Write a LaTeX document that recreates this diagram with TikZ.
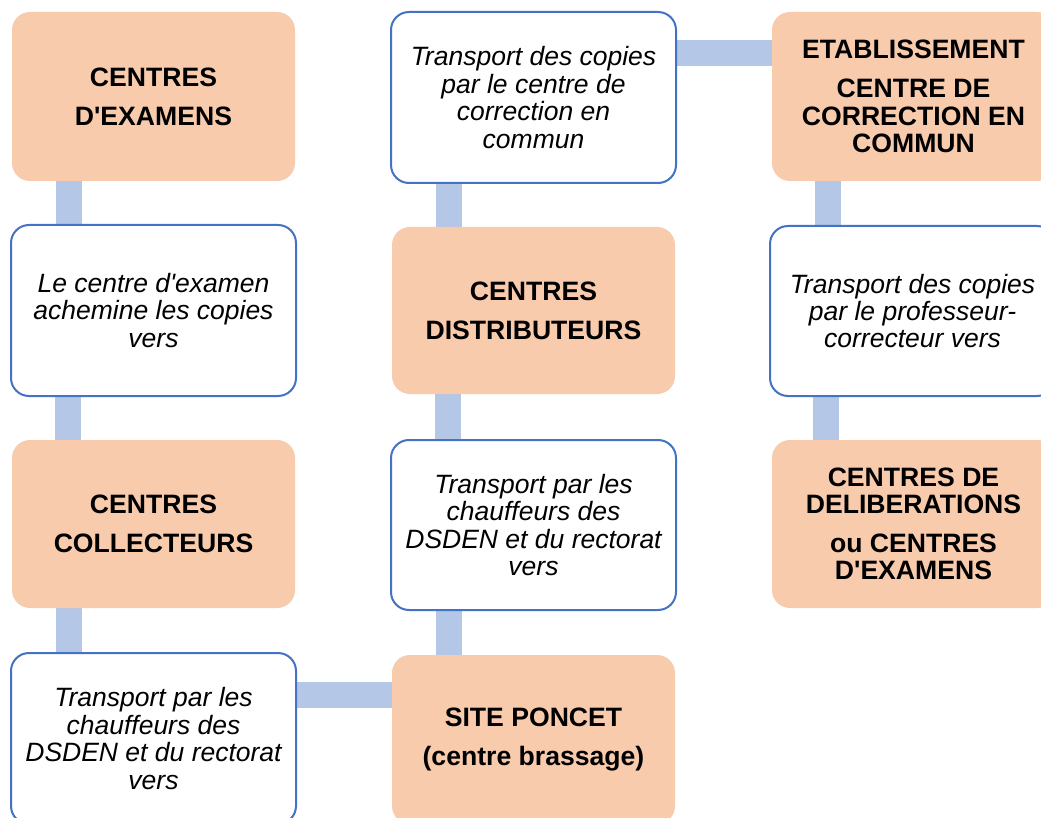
\documentclass[tikz,border=0pt]{standalone}
\usepackage{fontspec}
\newfontfamily\arialf{Liberation Sans}
\usetikzlibrary{backgrounds}
\definecolor{orfill}{HTML}{F8CBAD}
\definecolor{bluebd}{HTML}{4472C4}
\definecolor{connc}{HTML}{B4C7E7}
\begin{document}
\begin{tikzpicture}[x=1pt,y=-1pt,
  base/.style={anchor=north west, rounded corners=18pt, outer sep=0pt, inner sep=0pt, align=center},
  orbox/.style={base, fill=orfill, draw=none, minimum width=283pt, minimum height=169pt, font=\arialf\bfseries\fontsize{26.6pt}{27.3pt}\selectfont},
  whbox/.style={base, fill=white, draw=bluebd, line width=2pt, minimum width=285pt, minimum height=171pt, font=\arialf\itshape\fontsize{26.5pt}{27.4pt}\selectfont},
  conn/.style={draw=connc, line width=26pt, line cap=butt}]
\clip (0,0) rectangle (1041,818);
% column 1
\node[orbox] (b1) at (12,12) {CENTRES\\[11.5pt]D'EXAMENS};
\node[whbox] (b2) at (11,225) {Le centre d'examen\\achemine les copies\\vers};
\node[orbox, minimum height=168pt] (b3) at (12,440) {CENTRES\\[11.5pt]COLLECTEURS};
\node[whbox] (b4) at (11,653) {Transport par les\\chauffeurs des\\DSDEN et du rectorat\\vers};
% column 2
\node[orbox] (b5) at (392,655) {SITE PONCET\\[11.5pt](centre brassage)};
\node[whbox, minimum height=170pt] (b6) at (391,440) {Transport par les\\chauffeurs des\\DSDEN et du rectorat\\vers};
\node[orbox, minimum height=167pt] (b7) at (392,227) {CENTRES\\[11.5pt]DISTRIBUTEURS};
\node[whbox] (b8) at (391,12) {Transport des copies\\par le centre de\\correction en\\commun};
% column 3
\node[orbox] (b9) at (772,12) {ETABLISSEMENT\\[11.5pt]CENTRE DE\\CORRECTION EN\\COMMUN};
\node[whbox, minimum height=170pt] (b10) at (770,226) {Transport des copies\\par le professeur-\\correcteur vers};
\node[orbox, minimum height=168pt] (b11) at (772,440) {CENTRES DE\\DELIBERATIONS\\[11.5pt]ou CENTRES\\D'EXAMENS};
% connectors
\begin{scope}[on background layer]
\fill[white] (0,0) rectangle (1041,818);
\draw[conn] ([xshift=57pt]b1.south west) -- ([xshift=57pt]b1.south west |- b2.north);
\draw[conn] ([xshift=57pt]b2.south west) -- ([xshift=57pt]b2.south west |- b3.north);
\draw[conn] ([xshift=57pt]b3.south west) -- ([xshift=57pt]b3.south west |- b4.north);
\draw[conn] ([yshift=-42pt]b4.north east) -- ([yshift=-42pt]b4.north east -| b5.west);
\draw[conn] ([xshift=57pt]b5.north west) -- ([xshift=57pt]b5.north west |- b6.south);
\draw[conn] ([xshift=57pt]b6.north west) -- ([xshift=57pt]b6.north west |- b7.south);
\draw[conn] ([xshift=57pt]b7.north west) -- ([xshift=57pt]b7.north west |- b8.south);
\draw[conn] ([yshift=-41pt]b8.north east) -- ([yshift=-41pt]b8.north east -| b9.west);
\draw[conn] ([xshift=56pt]b9.south west) -- ([xshift=56pt]b9.south west |- b10.north);
\draw[conn] ([xshift=56pt]b10.south west) -- ([xshift=56pt]b10.south west |- b11.north);
\end{scope}
\end{tikzpicture}
\end{document}
